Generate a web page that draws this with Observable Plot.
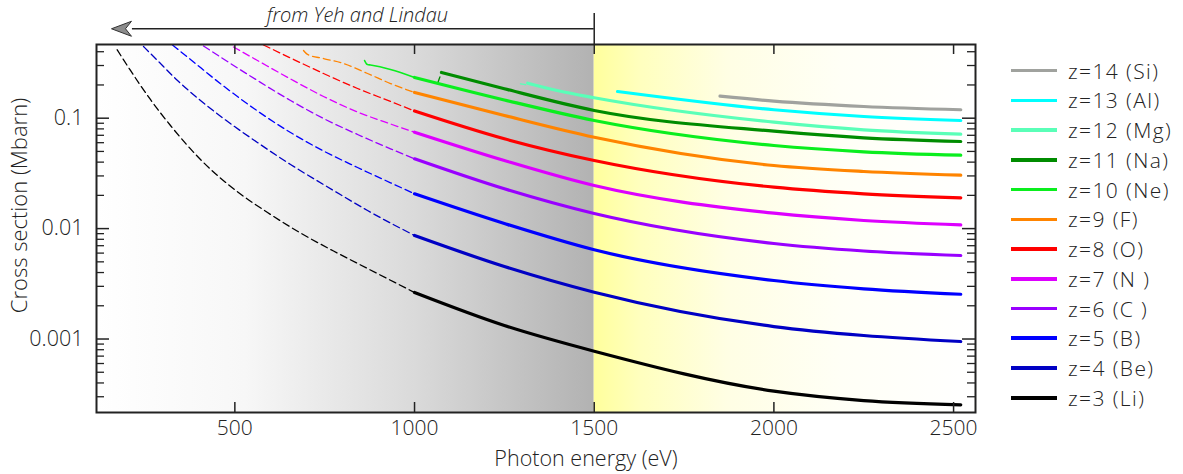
<!DOCTYPE html>
<html><head><meta charset="utf-8">
<script src="https://cdn.jsdelivr.net/npm/d3@7"></script>
<script src="https://cdn.jsdelivr.net/npm/@observablehq/plot@0.6"></script>
<style>
body{margin:0;background:#fff;}
#wrap{position:relative;width:1183px;height:474px;font-family:"Open Sans",Roboto,Arial,sans-serif;font-weight:300;color:#222;}
#legend{position:absolute;left:1011px;top:0;}
.row{position:absolute;left:0;height:22px;display:flex;align-items:center;white-space:pre;font-size:21px;letter-spacing:1.4px;}
.sw{width:46px;height:3.6px;margin-right:11px;}
</style></head><body><div id="wrap"></div>
<script>
// ---- categories / colours ----
const names = ["z=14 (Si)","z=13 (Al)","z=12 (Mg)","z=11 (Na)","z=10 (Ne)","z=9 (F)","z=8 (O)","z=7 (N )","z=6 (C )","z=5 (B)","z=4 (Be)","z=3 (Li)"];
const colors = ["#a0a29e","#00ffff","#5affb8","#008c00","#0aee1e","#ff8400","#ff0000","#dd00ff","#9900ff","#0000ff","#0000c4","#000000"];

// ---- tick labels ----
const xTicks = [500, 1000, 1500, 2000, 2500];
const yMajor = [0.1, 0.01, 0.001];
const yMinor = [0.0003,0.0004,0.0005,0.0006,0.0007,0.0008,0.0009,
                0.002,0.003,0.004,0.005,0.006,0.007,0.008,0.009,
                0.02,0.03,0.04,0.05,0.06,0.07,0.08,0.09,
                0.2,0.3,0.4];

// ---- solid (thick) curves, photon energy eV -> cross section Mbarn ----
const solidE  = [1000, 1250, 1500, 2000, 2250, 2520];
const liSolid = [0.002637,0.001325,0.000775,0.000337,0.000277,0.0002535];
const beSolid = [0.00866,0.004536,0.002654,0.001297,0.001076,0.000949];
const bSolid  = [0.02066,0.01112,0.006427,0.003388,0.002849,0.002545];
const cSolid  = [0.04288,0.02293,0.0137,0.00733,0.006267,0.005706];
const nSolid  = [0.07466,0.04138,0.02457,0.01379,0.01184,0.01082];
const oSolid  = [0.1162,0.06508,0.04138,0.02371,0.02066,0.01901];
const fSolid  = [0.1709,0.1058,0.06727,0.03728,0.03291,0.03046];
const neSolid = [0.2337,0.1462,0.09532,0.05658,0.04963,0.04623];
const naE = [1075,1250,1500,2000,2250,2520];
const naSolid = [0.2594,0.1846,0.1174,0.07623,0.06644,0.06151];
const mgE = [1315,1400,1500,2000,2250,2520];
const mgSolid = [0.2075,0.1771,0.1531,0.0920,0.0785,0.07161];
const alE = [1565,2000,2250,2520];
const alSolid = [0.1745,0.1192,0.1036,0.09532];
const siE = [1850,2000,2250,2520];
const siSolid = [0.1582,0.1426,0.1276,0.1192];

// ---- dashed (extrapolated) parts ----
const liDashE = [172.5,209.6,265,320.9,404.4,499,590.9,682.7,774.6,869.2,1000];
const liDash  = [0.4165,0.2705,0.1477,0.0859,0.04224,0.0226,0.01399,0.009122,0.006267,0.004351,0.002637];
const beDashE = [245.8,284.7,340.4,404.4,468.4,563,654.9,774.6,869.2,1000];
const beDash  = [0.446,0.333,0.2195,0.1446,0.0994,0.0602,0.0381,0.02214,0.01458,0.00866];
const bDashE  = [326.5,376.6,468.4,563,654.9,746.7,841.4,933.2,1000];
const bDash   = [0.4603,0.3402,0.1957,0.1162,0.0742,0.05045,0.03576,0.0260,0.02066];
const cDashE  = [412.7,468.4,563,654.9,746.7,841.4,933.2,1000];
const cDash   = [0.4508,0.3438,0.2195,0.1446,0.0994,0.0712,0.0528,0.04288];
const nDashE  = [496.2,563,654.9,746.7,841.4,933.2,1000];
const nDash   = [0.4414,0.333,0.2265,0.1573,0.1138,0.0886,0.07466];
const oDashE  = [579.7,654.9,746.7,841.4,933.2,1000];
const oDash   = [0.4603,0.3510,0.254,0.1858,0.1417,0.1162];
const fDashE  = [691,702,746.7,802.4,869.2,933.2,1000];
const fDash   = [0.410,0.378,0.347,0.313,0.254,0.206,0.1709];
const naEdgeE = [1064,1075];
const naEdge  = [0.206,0.2594];
const mgEdgeE = [1295,1309];
const mgEdge  = [0.205,0.201];
// thin solid part of Ne
const neThinE = [861,869,877.5,933,1000];
const neThin  = [0.333,0.306,0.303,0.276,0.2337];

// ---- annotation ----
const refLimit = 1500;           // "from Yeh and Lindau" boundary
const arrowTip = 156.7, arrowY = 0.6455, arrowTop = 0.888;

function rows(sets) {
  return sets.flatMap(([name, E, V]) => E.map((e, i) => ({name, E: e, v: V[i]})));
}
const solidRows = rows([
  [names[11], solidE, liSolid], [names[10], solidE, beSolid], [names[9], solidE, bSolid],
  [names[8], solidE, cSolid], [names[7], solidE, nSolid], [names[6], solidE, oSolid],
  [names[5], solidE, fSolid], [names[4], solidE, neSolid], [names[3], naE, naSolid],
  [names[2], mgE, mgSolid], [names[1], alE, alSolid], [names[0], siE, siSolid]
]);
const dashRows = rows([
  [names[11], liDashE, liDash], [names[10], beDashE, beDash], [names[9], bDashE, bDash],
  [names[8], cDashE, cDash], [names[7], nDashE, nDash], [names[6], oDashE, oDash],
  [names[5], fDashE, fDash], [names[3], naEdgeE, naEdge], [names[2], mgEdgeE, mgEdge]
]);
const thinRows = rows([[names[4], neThinE, neThin]]);

const W = 1183, H = 474, mL = 96, mR = 208, mT = 44, mB = 62;
const fw = W - mL - mR, fh = H - mT - mB;
const xDom = [115, 2561];
const ink = "#222";
const font = "'Open Sans', Roboto, Arial, sans-serif";

const headSymbol = {
  draw(ctx) {
    ctx.moveTo(0, 0); ctx.lineTo(20, -7.5); ctx.lineTo(14, 0); ctx.lineTo(20, 7.5); ctx.closePath();
  }
};

const plot = Plot.plot({
  width: W, height: H,
  marginLeft: mL, marginRight: mR, marginTop: mT, marginBottom: mB,
  style: {fontFamily: font, fontSize: "21px", fontWeight: 300, color: ink, background: "transparent", overflow: "visible"},
  x: {domain: xDom},
  y: {type: "log", domain: [0.000216, 0.465]},
  color: {domain: names, range: colors},
  marks: [
    () => {
      const defs = d3.create("svg:defs");
      const g1 = defs.append("linearGradient").attr("id", "gGray");
      [[0,"#ffffff"],[0.3,"#f7f7f7"],[0.64,"#dadada"],[1,"#b2b2b2"]].forEach(([o,c]) => g1.append("stop").attr("offset", o).attr("stop-color", c));
      const g2 = defs.append("linearGradient").attr("id", "gYel");
      [[0,"#ffff9c"],[0.12,"#ffffbe"],[0.35,"#fffee4"],[0.65,"#fffff6"],[1,"#ffffff"]].forEach(([o,c]) => g2.append("stop").attr("offset", o).attr("stop-color", c));
      return defs.node();
    },
    Plot.rect([{a: xDom[0], b: refLimit}], {x1: "a", x2: "b", fill: "url(#gGray)"}),
    Plot.rect([{a: refLimit, b: xDom[1]}], {x1: "a", x2: "b", fill: "url(#gYel)"}),
    Plot.line(dashRows, {x: "E", y: "v", z: "name", stroke: "name", strokeWidth: 1.3, strokeDasharray: "7,4", curve: "monotone-x"}),
    Plot.line(thinRows, {x: "E", y: "v", z: "name", stroke: "name", strokeWidth: 1.6, curve: "monotone-x"}),
    Plot.line(solidRows, {x: "E", y: "v", z: "name", stroke: "name", strokeWidth: 3.2, curve: "monotone-x"}),
    // inward ticks
    Plot.ruleX(xTicks, {insetTop: fh - 10, stroke: ink, strokeWidth: 1.5}),
    Plot.ruleX(xTicks, {insetBottom: fh - 10, stroke: ink, strokeWidth: 1.5}),
    Plot.ruleY(yMajor, {insetRight: fw - 13, stroke: ink, strokeWidth: 1.5}),
    Plot.ruleY(yMajor, {insetLeft: fw - 13, stroke: ink, strokeWidth: 1.5}),
    Plot.ruleY(yMinor, {insetRight: fw - 8, stroke: ink, strokeWidth: 1.3}),
    Plot.ruleY(yMinor, {insetLeft: fw - 8, stroke: ink, strokeWidth: 1.3}),
    Plot.frame({stroke: ink, strokeWidth: 2}),
    Plot.axisX({ticks: xTicks, tickSize: 0, tickPadding: 8, tickFormat: d => String(d), label: null, fontSize: 21}),
    Plot.axisY({ticks: yMajor, tickSize: 0, tickPadding: 13, tickFormat: d => String(d), label: null, fontSize: 21.5}),
    Plot.text(["Photon energy (eV)"], {x: 1477, frameAnchor: "bottom", dy: 38, lineAnchor: "top", textAnchor: "middle", fontSize: 21.5, letterSpacing: 1, fill: ink}),
    Plot.text(["Cross section (Mbarn)"], {frameAnchor: "left", dx: -77, dy: -23, rotate: -90, textAnchor: "middle", fontSize: 22, letterSpacing: 0.5, fill: ink}),
    // "from Yeh and Lindau" annotation
    Plot.ruleX([refLimit], {y1: 0.465, y2: arrowTop, stroke: ink, strokeWidth: 1.5}),
    Plot.ruleY([arrowY], {x1: 215, x2: refLimit, stroke: ink, strokeWidth: 1.5}),
    Plot.dot([{x: arrowTip, y: arrowY}], {x: "x", y: "y", r: 5, symbol: headSymbol, fill: "#8c8c8c", stroke: "#333", strokeWidth: 1}),
    Plot.text(["from Yeh and Lindau"], {x: 841, frameAnchor: "top", dy: -29, lineAnchor: "middle", textAnchor: "middle", fontStyle: "italic", fontSize: 20, letterSpacing: 1.8, fill: ink})
  ]
});

const wrap = document.getElementById("wrap");
wrap.appendChild(plot);
const legend = document.createElement("div");
legend.id = "legend";
names.forEach((n, i) => {
  const r = document.createElement("div");
  r.className = "row";
  r.style.top = (70.7 + i * 29.73 - 11) + "px";
  const s = document.createElement("div");
  s.className = "sw"; s.style.background = colors[i];
  const t = document.createElement("span");
  t.textContent = n;
  r.appendChild(s); r.appendChild(t);
  legend.appendChild(r);
});
wrap.appendChild(legend);
</script></body></html>
